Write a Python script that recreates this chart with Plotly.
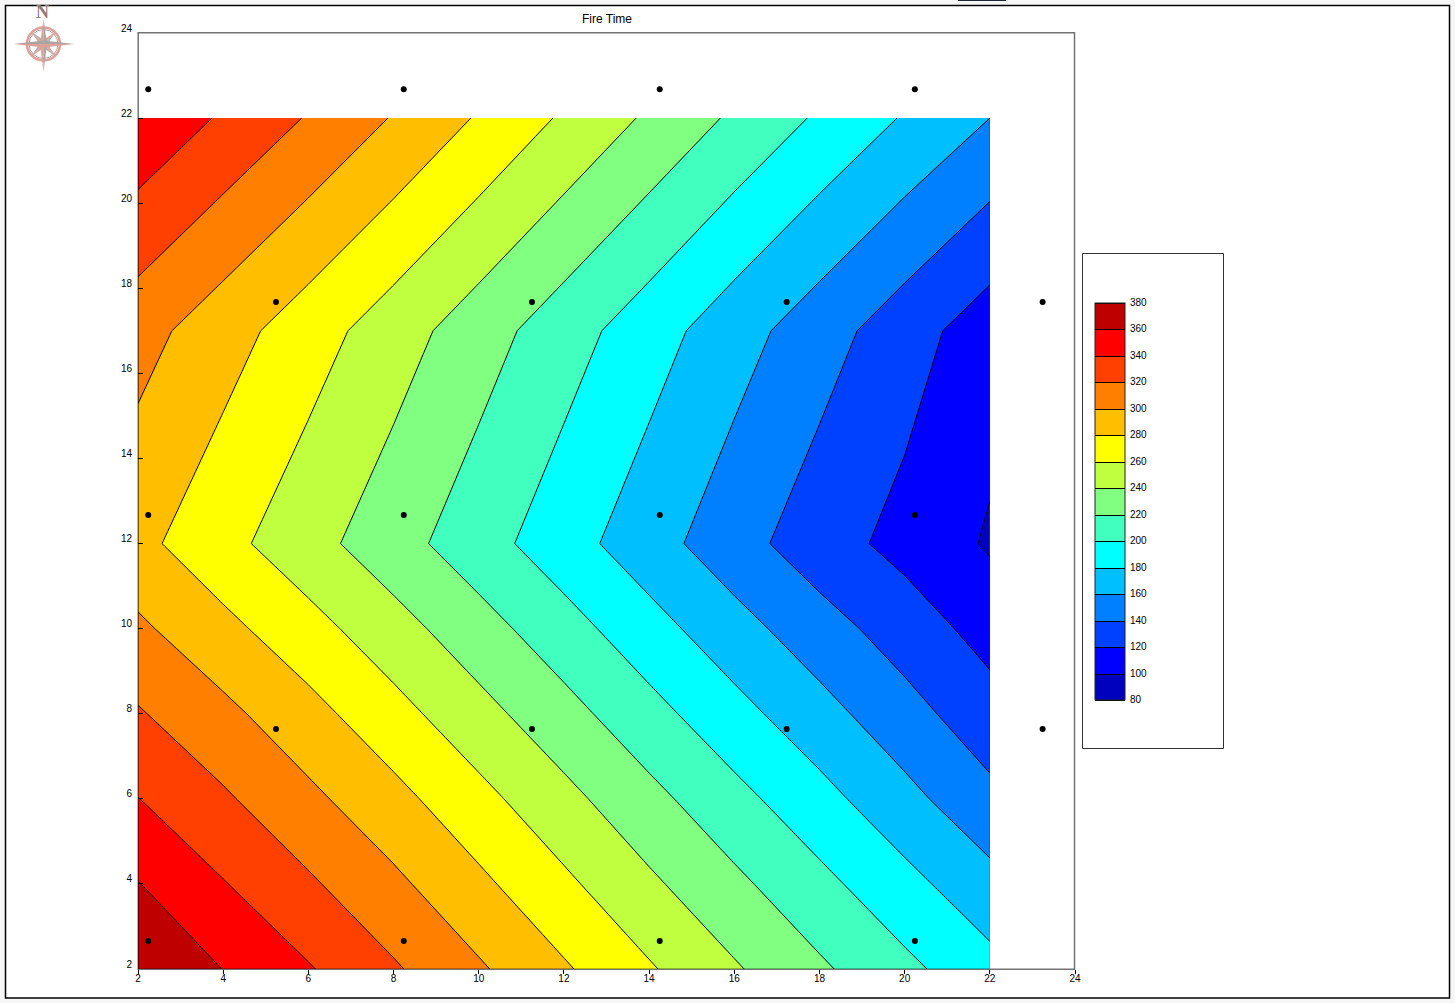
import plotly.graph_objects as go

X_GRID = [2, 4, 6, 8, 10, 12, 14, 16, 18, 20, 22]
Y_GRID = [2, 4, 6, 8, 10, 12, 17, 22]
FIRE_TIME = [
    [378.0, 359.7, 341.6, 322.4, 302.6, 282.4, 262.1, 242.2, 223.2, 204.8, 186.5],
    [360.7, 341.1, 322.9, 304.3, 284.3, 264.0, 243.6, 224.4, 205.4, 186.3, 166.5],
    [340.4, 322.8, 304.6, 286.1, 266.0, 245.7, 225.8, 206.1, 186.7, 166.0, 145.2],
    [321.8, 305.1, 286.6, 266.9, 246.7, 227.0, 206.7, 186.8, 167.2, 147.3, 128.0],
    [303.6, 285.5, 267.2, 247.7, 228.0, 208.0, 187.6, 167.6, 148.4, 130.5, 112.5],
    [285.4, 266.3, 247.2, 228.1, 208.4, 188.5, 168.3, 148.0, 128.8, 113.7, 97.8],
    [307.6, 288.5, 269.2, 249.4, 229.1, 208.9, 188.9, 168.5, 148.8, 128.9, 109.0],
    [356.4, 337.5, 318.5, 298.7, 278.1, 257.3, 236.9, 216.7, 197.2, 178.3, 160.0],
]
POINT_X = [2.24, 8.24, 14.25, 20.24, 5.24, 11.25, 17.23, 23.24,
           2.24, 8.24, 14.25, 20.24, 5.24, 11.25, 17.23, 23.24,
           2.24, 8.24, 14.25, 20.24]
POINT_Y = [22.68, 22.68, 22.68, 22.68, 17.68, 17.68, 17.68, 17.68,
           12.67, 12.67, 12.67, 12.67, 7.64, 7.64, 7.64, 7.64,
           2.66, 2.66, 2.66, 2.66]
LEVELS = list(range(80, 381, 20))
BAND_COLORS = ["#0000bf", "#0000ff", "#0040ff", "#0080ff", "#00bfff", "#00ffff",
               "#40ffbf", "#80ff80", "#bfff40", "#ffff00", "#ffbf00", "#ff8000",
               "#ff4000", "#ff0000", "#bf0000"]
AXIS_TICKS = list(range(2, 25, 2))
TITLE = "Fire Time"
FONT = "Liberation Sans"

W, H = 1455, 1003
L, R, T, B = 138, 1075, 33, 969


def px(x):
    return (x - L) / (R - L)


def py(y):
    return (B - y) / (B - T)


scale = []
n = len(BAND_COLORS)
for i, c in enumerate(BAND_COLORS):
    scale.append([i / n, c])
    scale.append([(i + 1) / n, c])

fig = go.Figure()
fig.add_trace(go.Contour(
    x=X_GRID, y=Y_GRID, z=FIRE_TIME,
    zmin=LEVELS[0], zmax=LEVELS[-1], colorscale=scale,
    contours=dict(start=LEVELS[0], end=LEVELS[-1], size=20, coloring="fill"),
    line=dict(color="black", width=1, smoothing=0),
    colorbar=dict(
        x=px(1095), xref="paper", xanchor="left", xpad=0,
        y=py(699.5), yref="paper", yanchor="bottom", ypad=0,
        thicknessmode="pixels", thickness=30, lenmode="pixels", len=397,
        tickmode="array", tickvals=LEVELS, ticktext=[str(v) for v in LEVELS],
        ticks="outside", ticklen=3, tickcolor="rgba(0,0,0,0)",
        tickfont=dict(family=FONT, size=10, color="black"),
        outlinecolor="#222222", outlinewidth=1, bgcolor="rgba(0,0,0,0)",
    ),
    hoverinfo="skip",
))
fig.add_trace(go.Scatter(
    x=POINT_X, y=POINT_Y, mode="markers",
    marker=dict(color="black", size=6), cliponaxis=False, showlegend=False,
))

axis = dict(
    range=[2, 24], tickmode="array", tickvals=AXIS_TICKS,
    ticktext=[str(v) for v in AXIS_TICKS],
    showgrid=False, zeroline=False, showline=False,
    tickcolor="black", tickwidth=1,
    tickfont=dict(family=FONT, size=10, color="black"),
)
fig.update_xaxes(**axis, ticks="outside", ticklen=4, ticklabelstandoff=-4)
fig.update_yaxes(**axis, ticks="inside", ticklen=5, ticklabelshift=-5, ticklabelstandoff=5)


def rect(x0, y0, x1, y1, **kw):
    return dict(type="rect", xref="paper", yref="paper",
                x0=px(x0), x1=px(x1), y0=py(y0), y1=py(y1), **kw)


shapes = [
    rect(5.5, 5.5, 1449.5, 998, fillcolor="white", line=dict(color="black", width=1.5), layer="below"),
    rect(1082.5, 253.5, 1223.5, 748.5, fillcolor="white", line=dict(color="#333333", width=1), layer="below"),
    rect(958, 0, 1006, 1, fillcolor="#1f2430", line=dict(width=0), layer="below"),
    rect(138.2, 32.7, 1074.5, 969.3, fillcolor="rgba(0,0,0,0)",
         line=dict(color="rgba(0,0,0,0.55)", width=1.5), layer="above"),
]

# compass rose decoration
cx, cy = 43.5, 44


def path(points, fill):
    d = "M " + " L ".join(f"{px(a)},{py(b)}" for a, b in points) + " Z"
    return dict(type="path", xref="paper", yref="paper", path=d,
                fillcolor=fill, line=dict(width=0), layer="above")


shapes.append(dict(type="circle", xref="paper", yref="paper",
                   x0=px(cx - 16.5), x1=px(cx + 16.5), y0=py(cy + 16.5), y1=py(cy - 16.5),
                   fillcolor="rgba(0,0,0,0)", line=dict(color="#e0a097", width=2.5), layer="above"))
shapes.append(dict(type="circle", xref="paper", yref="paper",
                   x0=px(cx - 14.5), x1=px(cx + 14.5), y0=py(cy + 14.5), y1=py(cy - 14.5),
                   fillcolor="rgba(0,0,0,0)", line=dict(color="#a8a0a0", width=1), layer="above"))
for dx, dy in [(1, 1), (1, -1), (-1, 1), (-1, -1)]:
    shapes.append(path([(cx + dx * 13, cy + dy * 13), (cx + dx * 4, cy), (cx, cy)],
                       "#e0a097" if dx == dy else "#b4b0b0"))
    shapes.append(path([(cx + dx * 13, cy + dy * 13), (cx, cy + dy * 4), (cx, cy)],
                       "#b4b0b0" if dx == dy else "#e0a097"))
for a, b, w in [(0, -25, 3.5), (0, 28, 3.5), (-30, 0, 3.5), (31, 0, 3.5)]:
    if a == 0:
        shapes.append(path([(cx, cy + b), (cx - w, cy), (cx, cy)], "#e0a097"))
        shapes.append(path([(cx, cy + b), (cx + w, cy), (cx, cy)], "#a9a5a5"))
    else:
        shapes.append(path([(cx + a, cy), (cx, cy - w), (cx, cy)], "#a9a5a5"))
        shapes.append(path([(cx + a, cy), (cx, cy + w), (cx, cy)], "#e0a097"))

fig.update_layout(
    width=W, height=H, autosize=False,
    margin=dict(l=L, r=W - R, t=T, b=H - B, pad=0),
    paper_bgcolor="#f6f6f6", plot_bgcolor="white",
    showlegend=False, shapes=shapes,
    title=dict(text=TITLE, x=607 / W, xref="container", xanchor="center",
               y=1 - 18.5 / H, yref="container", yanchor="middle",
               font=dict(family=FONT, size=12, color="black")),
    annotations=[dict(text="<b>N</b>", xref="paper", yref="paper", x=px(42.5), y=py(12),
                      xanchor="center", yanchor="middle", showarrow=False,
                      font=dict(family="Liberation Serif", size=18, color="#8f7a77"))],
)

fig.write_html("out.html", config=dict(displayModeBar=False),
               post_script="document.body.style.margin='0';document.body.style.overflow='hidden';")
